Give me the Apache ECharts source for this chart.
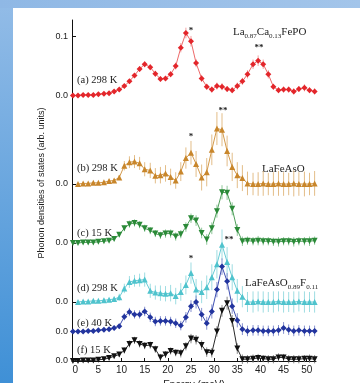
<!DOCTYPE html>
<html>
<head>
<meta charset="utf-8">
<script src="https://cdn.jsdelivr.net/npm/echarts@6/dist/echarts.min.js"></script>
<style>
  html, body { margin: 0; padding: 0; background: #fff; }
  #chart { width: 360px; height: 383px; }
</style>
</head>
<body>
<div id="chart"></div>
<script>
// energy transfer (meV)
var energy = [-0.5, 0.6, 1.7, 2.8, 3.9, 5.0, 6.2, 7.3, 8.4, 9.5, 10.6, 11.7, 12.8, 13.9, 15.0, 16.2,
  17.3, 18.4, 19.5, 20.6, 21.7, 22.8, 23.9, 25.0, 26.1, 27.3, 28.4, 29.5, 30.6, 31.7, 32.8, 33.9,
  35.0, 36.1, 37.2, 38.4, 39.5, 40.6, 41.7, 42.8, 43.9, 45.0, 46.1, 47.2, 48.3, 49.5, 50.6, 51.7];

// phonon DOS (arb. units), one array per curve
var dosA = [0, 0, 0.001, 0.001, 0.001, 0.002, 0.003, 0.004, 0.007, 0.010,
  0.016, 0.024, 0.034, 0.045, 0.053, 0.048, 0.037, 0.028, 0.029, 0.036,
  0.050, 0.081, 0.106, 0.092, 0.055, 0.029, 0.015, 0.010, 0.016, 0.015,
  0.011, 0.009, 0.016, 0.024, 0.036, 0.053, 0.059, 0.053, 0.036, 0.015,
  0.009, 0.010, 0.010, 0.007, 0.011, 0.013, 0.009, 0.007];
var dosB = [null, 0, 0.001, 0.001, 0.002, 0.002, 0.003, 0.005, 0.006, 0.011,
  0.031, 0.037, 0.038, 0.035, 0.025, 0.023, 0.014, 0.015, 0.018, 0.012,
  0.006, 0.021, 0.044, 0.053, 0.034, 0.011, 0.020, 0.058, 0.094, 0.092,
  0.056, 0.029, 0.015, 0.010, 0.001, 0, 0, 0.001, 0, 0,
  0.001, 0, 0, 0.001, 0, 0, 0, 0.001];
var dosC = [0, 0, 0.001, 0.001, 0.001, 0.002, 0.003, 0.004, 0.007, 0.014,
  0.025, 0.032, 0.034, 0.031, 0.025, 0.021, 0.016, 0.013, 0.016, 0.016,
  0.011, 0.015, 0.027, 0.042, 0.038, 0.017, 0.006, 0.025, 0.054, 0.086,
  0.085, 0.058, 0.022, 0.003, 0.004, 0.003, 0.004, 0.003, 0.003, 0.002,
  0.002, 0.003, 0.003, 0.002, 0.003, 0.003, 0.003, 0.004];
var dosD = [null, 0, 0.001, 0.001, 0.002, 0.002, 0.003, 0.004, 0.005, 0.008,
  0.023, 0.034, 0.036, 0.037, 0.038, 0.019, 0.016, 0.015, 0.014, 0.015,
  0.010, 0.017, 0.029, 0.049, 0.021, 0.017, 0.025, 0.042, 0.064, 0.097,
  0.068, 0.042, 0.019, 0.009, 0, 0, 0.001, 0, 0, 0,
  0.001, 0, 0, 0, 0.001, 0, 0, 0];
var dosE = [0, 0, 0, 0.001, 0.001, 0.002, 0.003, 0.004, 0.006, 0.009,
  0.025, 0.033, 0.029, 0.029, 0.034, 0.024, 0.017, 0.018, 0.018, 0.017,
  0.014, 0.010, 0.024, 0.043, 0.050, 0.029, 0.014, 0.034, 0.071, 0.110,
  0.085, 0.043, 0.019, 0.004, 0.001, 0.002, 0.002, 0.001, 0.001, 0.001,
  0.002, 0.006, 0.003, 0.001, 0.002, 0.001, 0.001, 0.001];
var dosF = [0, 0, 0.001, 0.001, 0.001, 0.002, 0.003, 0.005, 0.008, 0.011,
  0.018, 0.029, 0.035, 0.029, 0.026, 0.027, 0.020, 0.006, 0.011, 0.017,
  0.014, 0.013, 0.025, 0.038, 0.036, 0.027, 0.015, 0.014, 0.050, 0.085,
  0.098, 0.068, 0.021, 0.003, 0.003, 0.004, 0.005, 0.004, 0.003, 0.003,
  0.006, 0.006, 0.003, 0.003, 0.003, 0.004, 0.004, 0.003];

// error bar half lengths
var errA = [0.001, 0.001, 0.001, 0.001, 0.001, 0.001, 0.001, 0.001, 0.002, 0.003,
  0.003, 0.004, 0.004, 0.005, 0.005, 0.005, 0.005, 0.004, 0.004, 0.005,
  0.006, 0.008, 0.009, 0.009, 0.007, 0.006, 0.005, 0.005, 0.006, 0.006,
  0.005, 0.005, 0.006, 0.006, 0.007, 0.008, 0.009, 0.008, 0.007, 0.005,
  0.005, 0.005, 0.005, 0.005, 0.005, 0.006, 0.005, 0.005];
var errB = [null, 0.001, 0.001, 0.001, 0.002, 0.002, 0.002, 0.003, 0.003, 0.004,
  0.008, 0.010, 0.011, 0.011, 0.012, 0.013, 0.013, 0.014, 0.014, 0.014,
  0.014, 0.016, 0.018, 0.020, 0.022, 0.022, 0.024, 0.026, 0.028, 0.028,
  0.026, 0.024, 0.022, 0.022, 0.020, 0.019, 0.020, 0.021, 0.019, 0.020,
  0.021, 0.020, 0.019, 0.022, 0.020, 0.021, 0.019, 0.021];
var errC = [0.001, 0.001, 0.001, 0.001, 0.001, 0.002, 0.002, 0.002, 0.003, 0.004,
  0.005, 0.006, 0.006, 0.006, 0.006, 0.006, 0.006, 0.006, 0.007, 0.007,
  0.007, 0.007, 0.008, 0.008, 0.009, 0.009, 0.009, 0.010, 0.011, 0.012,
  0.012, 0.011, 0.010, 0.008, 0.007, 0.007, 0.008, 0.007, 0.007, 0.007,
  0.008, 0.007, 0.007, 0.008, 0.007, 0.007, 0.008, 0.007];
var errD = [null, 0.001, 0.001, 0.002, 0.002, 0.002, 0.003, 0.003, 0.004, 0.006,
  0.008, 0.010, 0.010, 0.011, 0.012, 0.012, 0.012, 0.013, 0.013, 0.014,
  0.014, 0.015, 0.016, 0.018, 0.018, 0.019, 0.020, 0.022, 0.024, 0.026,
  0.025, 0.022, 0.020, 0.018, 0.017, 0.018, 0.017, 0.018, 0.017, 0.018,
  0.017, 0.018, 0.017, 0.018, 0.017, 0.018, 0.017, 0.018];
var errE = [0.001, 0.001, 0.001, 0.001, 0.001, 0.002, 0.002, 0.002, 0.003, 0.004,
  0.006, 0.007, 0.007, 0.007, 0.008, 0.008, 0.008, 0.008, 0.008, 0.008,
  0.008, 0.008, 0.009, 0.010, 0.011, 0.011, 0.011, 0.012, 0.013, 0.014,
  0.014, 0.013, 0.012, 0.010, 0.009, 0.009, 0.009, 0.009, 0.009, 0.009,
  0.009, 0.010, 0.009, 0.009, 0.009, 0.009, 0.009, 0.009];
var errF = [0.001, 0.001, 0.001, 0.001, 0.001, 0.002, 0.002, 0.002, 0.003, 0.004,
  0.005, 0.006, 0.006, 0.006, 0.006, 0.006, 0.006, 0.006, 0.006, 0.006,
  0.006, 0.007, 0.007, 0.008, 0.008, 0.008, 0.008, 0.008, 0.009, 0.010,
  0.011, 0.010, 0.009, 0.008, 0.007, 0.007, 0.007, 0.006, 0.007, 0.007,
  0.007, 0.006, 0.007, 0.007, 0.007, 0.006, 0.007, 0.007];

var xTicks = [0, 5, 10, 15, 20, 25, 30, 35, 40, 45, 50];

// curves are stacked with a vertical offset
var panels = [
  {label: '(a) 298 K', dos: dosA, err: errA, base: 0.45, symbol: 'diamond', rot: 0, mark: '#e3262b', line: '#ee6a6a', bar: '#f2a4a4'},
  {label: '(b) 298 K', dos: dosB, err: errB, base: 0.30, symbol: 'triangle', rot: 0, mark: '#c8862b', line: '#d39a4c', bar: '#e3bd88'},
  {label: '(c) 15 K', dos: dosC, err: errC, base: 0.20, symbol: 'triangle', rot: 180, mark: '#2b8a38', line: '#4f9f5a', bar: '#8fc79a'},
  {label: '(d) 298 K', dos: dosD, err: errD, base: 0.10, symbol: 'triangle', rot: 0, mark: '#4fc3cd', line: '#68ccd5', bar: '#9edde2'},
  {label: '(e) 40 K', dos: dosE, err: errE, base: 0.05, symbol: 'diamond', rot: 0, mark: '#22349e', line: '#3f50b2', bar: '#8691cf'},
  {label: '(f) 15 K', dos: dosF, err: errF, base: 0.00, symbol: 'triangle', rot: 180, mark: '#111111', line: '#2a2a2a', bar: '#8c8c8c'}
];
var labelY = [80, 168, 233, 288, 323, 350];

var yTicks = panels.map(function (p) { return p.base; }).concat([0.55]);

function errRenderer(color) {
  return function (params, api) {
    var lo = api.coord([api.value(0), api.value(1)]);
    var hi = api.coord([api.value(0), api.value(2)]);
    return {
      type: 'line',
      shape: {x1: lo[0], y1: lo[1], x2: hi[0], y2: hi[1]},
      style: {stroke: color, lineWidth: 1}
    };
  };
}

var series = [];
panels.forEach(function (p) {
  var pts = [], bars = [];
  energy.forEach(function (e, i) {
    if (p.dos[i] == null) return;
    pts.push([e, p.base + p.dos[i]]);
    bars.push([e, p.base + p.dos[i] - p.err[i], p.base + p.dos[i] + p.err[i]]);
  });
  series.push({
    type: 'custom',
    renderItem: errRenderer(p.bar),
    data: bars,
    encode: {x: 0, y: [1, 2]},
    z: 2,
    silent: true
  });
  series.push({
    type: 'line',
    data: pts,
    symbol: p.symbol,
    symbolRotate: p.rot,
    symbolSize: 6,
    showSymbol: true,
    lineStyle: {color: p.line, width: 1},
    itemStyle: {color: p.mark},
    z: 3
  });
});

var serif = '"Liberation Serif", "DejaVu Serif", serif';
var graphics = [
  {type: 'rect', left: 0, top: 0, z: -1, shape: {width: 13, height: 383},
    style: {fill: new echarts.graphic.LinearGradient(0, 0, 0, 1, [{offset: 0, color: '#93bce7'}, {offset: 1, color: '#3f90d6'}])}},
  {type: 'rect', left: 0, top: 0, z: -1, shape: {width: 360, height: 8},
    style: {fill: new echarts.graphic.LinearGradient(0, 0, 1, 0, [{offset: 0, color: '#8fb8e5'}, {offset: 1, color: '#a3c5ea'}])}},
  {type: 'text', x: 42, y: 183, rotation: Math.PI / 2,
    style: {text: 'Phonon densities of states (arb. units)', fill: '#222', font: '9px "Liberation Sans", Arial, sans-serif', textAlign: 'center', textVerticalAlign: 'middle'}}
];
panels.forEach(function (p, k) {
  graphics.push({type: 'text', x: 77, y: labelY[k],
    style: {text: p.label, fill: '#222', font: '10.5px ' + serif, textAlign: 'left', textVerticalAlign: 'middle'}});
});
var subRich = {s: {fontSize: 7, fontFamily: serif, fill: '#222', verticalAlign: 'bottom', lineHeight: 8}};
[
  {t: 'La{s|0.87}Ca{s|0.13}FePO', x: 233, y: 32},
  {t: 'LaFeAsO', x: 262, y: 169},
  {t: 'LaFeAsO{s|0.89}F{s|0.11}', x: 245, y: 283}
].forEach(function (c) {
  graphics.push({type: 'text', x: c.x, y: c.y,
    style: {text: c.t, fill: '#222', font: '11px ' + serif, lineHeight: 16, rich: subRich, textAlign: 'left', textVerticalAlign: 'middle'}});
});
[
  {t: '*', x: 191, y: 31}, {t: '**', x: 259, y: 48},
  {t: '*', x: 191, y: 137}, {t: '**', x: 223, y: 111},
  {t: '*', x: 191, y: 259}, {t: '**', x: 229, y: 240}
].forEach(function (s) {
  graphics.push({type: 'text', x: s.x, y: s.y,
    style: {text: s.t, fill: '#222', font: 'bold 9px ' + serif, textAlign: 'center', textVerticalAlign: 'middle'}});
});

var chart = echarts.init(document.getElementById('chart'));
chart.setOption({
  animation: false,
  backgroundColor: '#fff',
  grid: {left: 72, right: 44, top: 20, bottom: 22, containLabel: false, outerBoundsMode: 'none'},
  xAxis: {
    type: 'value',
    min: -0.7,
    max: 52,
    name: 'Energy (meV)',
    nameLocation: 'middle',
    nameGap: 14,
    nameTextStyle: {color: '#222', fontSize: 10, fontFamily: '"Liberation Sans", Arial, sans-serif'},
    axisLine: {onZero: false, lineStyle: {color: '#111', width: 1}},
    axisTick: {inside: true, length: 3, customValues: xTicks, lineStyle: {color: '#111'}},
    axisLabel: {customValues: xTicks, color: '#222', fontSize: 10, margin: 4, fontFamily: '"Liberation Sans", Arial, sans-serif'},
    splitLine: {show: false}
  },
  yAxis: {
    type: 'value',
    min: 0,
    max: 0.578,
    axisLine: {show: true, onZero: false, lineStyle: {color: '#111', width: 1}},
    axisTick: {inside: true, length: 4, customValues: yTicks, lineStyle: {color: '#111'}},
    axisLabel: {
      customValues: yTicks,
      color: '#222',
      fontSize: 9,
      margin: 4,
      fontFamily: '"Liberation Sans", Arial, sans-serif',
      formatter: function (v) {
        var base = 0;
        panels.forEach(function (p) { if (p.base <= v + 1e-9 && p.base > base) base = p.base; });
        return (v - base).toFixed(1);
      }
    },
    splitLine: {show: false}
  },
  graphic: graphics,
  series: series
});
</script>
</body>
</html>
